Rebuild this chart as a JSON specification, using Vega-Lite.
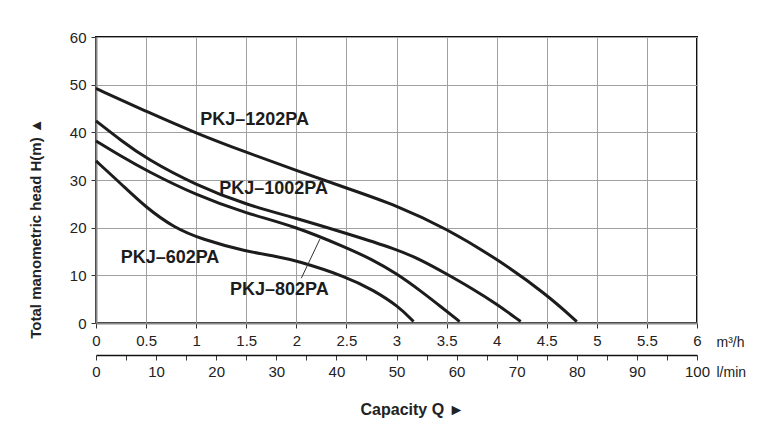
{
  "$schema": "https://vega.github.io/schema/vega-lite/v6.json",
  "width": 601,
  "height": 286,
  "autosize": "none",
  "padding": {"left": 96, "top": 37, "right": 82, "bottom": 110},
  "config": {
    "font": "Liberation Sans",
    "view": {"stroke": "#111", "strokeWidth": 2},
    "axis": {
      "labelFont": "Liberation Sans",
      "labelFontSize": 15,
      "labelColor": "#222",
      "titleFont": "Liberation Sans",
      "titleColor": "#222",
      "domainColor": "#888",
      "domainWidth": 2,
      "gridColor": "#a0a0a0",
      "gridWidth": 1,
      "gridOpacity": 1,
      "tickColor": "#333",
      "tickSize": 5
    }
  },
  "title": {
    "text": "Capacity Q  ►",
    "orient": "bottom",
    "anchor": "middle",
    "frame": "group",
    "fontSize": 16,
    "fontWeight": "bold",
    "color": "#222",
    "dx": 16,
    "offset": 23
  },
  "datasets": {
    "curves": [
      {"series": "PKJ-1202PA", "Q": 0, "H": 49.2},
      {"series": "PKJ-1202PA", "Q": 0.5, "H": 44.4},
      {"series": "PKJ-1202PA", "Q": 1, "H": 39.8},
      {"series": "PKJ-1202PA", "Q": 1.5, "H": 35.8},
      {"series": "PKJ-1202PA", "Q": 2, "H": 32.0},
      {"series": "PKJ-1202PA", "Q": 2.5, "H": 28.3},
      {"series": "PKJ-1202PA", "Q": 3, "H": 24.7},
      {"series": "PKJ-1202PA", "Q": 3.5, "H": 19.8},
      {"series": "PKJ-1202PA", "Q": 4, "H": 13.5},
      {"series": "PKJ-1202PA", "Q": 4.5, "H": 6.0},
      {"series": "PKJ-1202PA", "Q": 4.8, "H": 0.3},
      {"series": "PKJ-1002PA", "Q": 0, "H": 42.4},
      {"series": "PKJ-1002PA", "Q": 0.25, "H": 38.3},
      {"series": "PKJ-1002PA", "Q": 0.5, "H": 34.5},
      {"series": "PKJ-1002PA", "Q": 1, "H": 28.9},
      {"series": "PKJ-1002PA", "Q": 1.5, "H": 24.8},
      {"series": "PKJ-1002PA", "Q": 2, "H": 22.0},
      {"series": "PKJ-1002PA", "Q": 2.5, "H": 18.8},
      {"series": "PKJ-1002PA", "Q": 3, "H": 15.5},
      {"series": "PKJ-1002PA", "Q": 3.25, "H": 13.2},
      {"series": "PKJ-1002PA", "Q": 3.5, "H": 10.3},
      {"series": "PKJ-1002PA", "Q": 3.75, "H": 7.3},
      {"series": "PKJ-1002PA", "Q": 4, "H": 4.0},
      {"series": "PKJ-1002PA", "Q": 4.24, "H": 0.3},
      {"series": "PKJ-802PA", "Q": 0, "H": 38.2},
      {"series": "PKJ-802PA", "Q": 0.25, "H": 35.0},
      {"series": "PKJ-802PA", "Q": 0.5, "H": 32.0},
      {"series": "PKJ-802PA", "Q": 1, "H": 26.8},
      {"series": "PKJ-802PA", "Q": 1.5, "H": 23.0},
      {"series": "PKJ-802PA", "Q": 2, "H": 20.2},
      {"series": "PKJ-802PA", "Q": 2.5, "H": 15.8},
      {"series": "PKJ-802PA", "Q": 2.75, "H": 13.4},
      {"series": "PKJ-802PA", "Q": 3, "H": 10.4},
      {"series": "PKJ-802PA", "Q": 3.25, "H": 6.6},
      {"series": "PKJ-802PA", "Q": 3.45, "H": 3.3},
      {"series": "PKJ-802PA", "Q": 3.63, "H": 0.3},
      {"series": "PKJ-602PA", "Q": 0, "H": 34.0},
      {"series": "PKJ-602PA", "Q": 0.25, "H": 29.2},
      {"series": "PKJ-602PA", "Q": 0.5, "H": 24.2},
      {"series": "PKJ-602PA", "Q": 0.78, "H": 20.0},
      {"series": "PKJ-602PA", "Q": 1.05, "H": 17.6},
      {"series": "PKJ-602PA", "Q": 1.5, "H": 15.0},
      {"series": "PKJ-602PA", "Q": 1.8, "H": 14.0},
      {"series": "PKJ-602PA", "Q": 2, "H": 13.1},
      {"series": "PKJ-602PA", "Q": 2.5, "H": 9.7},
      {"series": "PKJ-602PA", "Q": 2.77, "H": 6.9},
      {"series": "PKJ-602PA", "Q": 3.02, "H": 3.5},
      {"series": "PKJ-602PA", "Q": 3.17, "H": 0.3}
    ],
    "labels": [
      {"text": "PKJ–1202PA", "Q": 1.04, "H": 42.5},
      {"text": "PKJ–1002PA", "Q": 1.23, "H": 28.1},
      {"text": "PKJ–602PA", "Q": 0.246, "H": 13.55},
      {"text": "PKJ–802PA", "Q": 1.337, "H": 6.86}
    ],
    "leader": [
      {"Q": 2.05, "H": 9.4, "Q2": 2.235, "H2": 17.6}
    ],
    "lmin": [
      {"lmin": 0},
      {"lmin": 100}
    ]
  },
  "layer": [
    {
      "layer": [
        {
          "data": {"name": "curves"},
          "mark": {"type": "line", "interpolate": "basis", "color": "#1c1c1c", "strokeWidth": 3},
          "encoding": {
            "x": {
              "field": "Q", "type": "quantitative",
              "scale": {"domain": [0, 6], "nice": false, "zero": true},
              "axis": {
                "orient": "bottom",
                "values": [0, 0.5, 1, 1.5, 2, 2.5, 3, 3.5, 4, 4.5, 5, 5.5, 6],
                "format": "~g",
                "labelPadding": 5,
                "labelFlush": false,
                "labelOverlap": false,
                "grid": true,
                "title": "m³/h",
                "titleFontSize": 14,
                "titleFontWeight": "normal",
                "titleAlign": "left",
                "titleBaseline": "middle",
                "titleAnchor": "start",
                "titleX": 620,
                "titleY": 19
              }
            },
            "y": {
              "field": "H", "type": "quantitative",
              "scale": {"domain": [0, 60], "nice": false},
              "axis": {
                "values": [0, 5, 10, 15, 20, 25, 30, 35, 40, 45, 50, 55, 60],
                "labelExpr": "datum.value % 10 == 0 ? datum.label : ''",
                "labelPadding": 5,
                "labelFlush": false,
                "labelOverlap": false,
                "grid": true,
                "title": "Total manometric head H(m)  ▲",
                "titleFontSize": 15,
                "titleFontWeight": "bold",
                "titleX": -61,
                "titleY": 191,
                "titleAlign": "center",
                "titleBaseline": "middle"
              }
            },
            "detail": {"field": "series", "type": "nominal"}
          }
        },
        {
          "data": {"name": "labels"},
          "mark": {"type": "text", "align": "left", "baseline": "middle", "fontSize": 18, "fontWeight": "bold", "color": "#1c1c1c", "font": "Liberation Sans"},
          "encoding": {
            "x": {"field": "Q", "type": "quantitative"},
            "y": {"field": "H", "type": "quantitative"},
            "text": {"field": "text", "type": "nominal"}
          }
        },
        {
          "data": {"name": "leader"},
          "mark": {"type": "rule", "color": "#333", "strokeWidth": 1},
          "encoding": {
            "x": {"field": "Q", "type": "quantitative"},
            "y": {"field": "H", "type": "quantitative"},
            "x2": {"field": "Q2"},
            "y2": {"field": "H2"}
          }
        }
      ]
    },
    {
      "data": {"name": "lmin"},
      "mark": {"type": "point", "opacity": 0},
      "encoding": {
        "x": {
          "field": "lmin", "type": "quantitative",
          "scale": {"domain": [0, 100], "nice": false},
          "axis": {
            "orient": "bottom",
            "offset": 32,
            "values": [0, 5, 10, 15, 20, 25, 30, 35, 40, 45, 50, 55, 60, 65, 70, 75, 80, 85, 90, 95, 100],
            "labelExpr": "datum.value % 10 == 0 ? datum.label : ''",
            "labelPadding": 4,
            "labelFlush": false,
            "labelOverlap": false,
            "grid": false,
            "domainColor": "#111",
            "domainWidth": 1.5,
            "title": "l/min",
            "titleFontSize": 14,
            "titleFontWeight": "normal",
            "titleAlign": "left",
            "titleBaseline": "middle",
            "titleAnchor": "start",
            "titleX": 620,
            "titleY": 17
          }
        }
      }
    }
  ],
  "resolve": {"scale": {"x": "independent"}, "axis": {"x": "independent"}}
}
